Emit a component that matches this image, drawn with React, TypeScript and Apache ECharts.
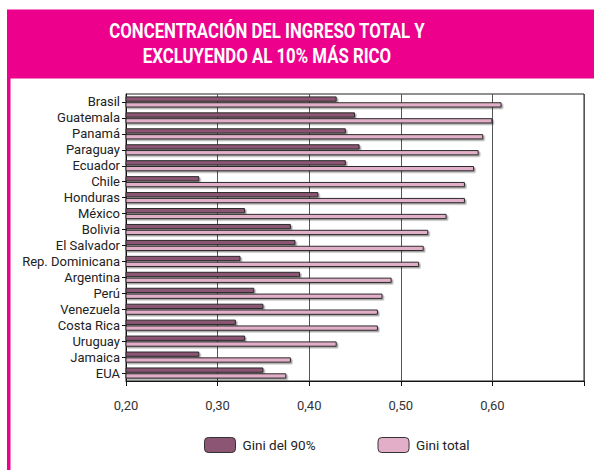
import React, { useEffect, useRef } from "react";
import * as echarts from "echarts";

const categories = [
  "Brasil", "Guatemala", "Panamá", "Paraguay", "Ecuador", "Chile", "Honduras",
  "México", "Bolivia", "El Salvador", "Rep. Dominicana", "Argentina", "Perú",
  "Venezuela", "Costa Rica", "Uruguay", "Jamaica", "EUA",
];
const gini90 = [0.43, 0.45, 0.44, 0.455, 0.44, 0.28, 0.41, 0.33, 0.38, 0.385, 0.325, 0.39, 0.34, 0.35, 0.32, 0.33, 0.28, 0.35];
const giniTotal = [0.61, 0.6, 0.59, 0.585, 0.58, 0.57, 0.57, 0.55, 0.53, 0.525, 0.52, 0.49, 0.48, 0.475, 0.475, 0.43, 0.38, 0.375];
const seriesNames = ["Gini del 90%", "Gini total"];
const titleLines = ["CONCENTRACIÓN DEL INGRESO TOTAL Y", "EXCLUYENDO AL 10% MÁS RICO"];

const FONT = "Roboto";
const MAGENTA = "#EC008C";
const DARK = "#8C5573";
const LIGHT = "#E3AFC8";

export default function App() {
  const ref = useRef<HTMLDivElement>(null);
  useEffect(() => {
    if (!ref.current) return;
    const chart = echarts.init(ref.current, undefined, { renderer: "svg" });
    const barStyle = (color: string) => ({
      color,
      borderColor: "#2a2a2a",
      borderWidth: 1,
      shadowColor: "rgba(0,0,0,0.35)",
      shadowBlur: 1,
      shadowOffsetX: 1.5,
      shadowOffsetY: 1.5,
    });
    chart.setOption({
      animation: false,
      backgroundColor: "#ffffff",
      textStyle: { fontFamily: FONT },
      graphic: [
        { type: "rect", shape: { x: 7, y: 9.5, width: 587, height: 69 }, style: { fill: MAGENTA } },
        { type: "rect", shape: { x: 7, y: 78, width: 3.5, height: 392 }, style: { fill: MAGENTA } },
        {
          type: "text", x: 267, y: 20.5, scaleX: 0.8,
          style: { text: titleLines[0], fill: "#fff", font: `bold 21px ${FONT}`, align: "center", verticalAlign: "top" },
        },
        {
          type: "text", x: 267, y: 45.5, scaleX: 0.8,
          style: { text: titleLines[1], fill: "#fff", font: `bold 21px ${FONT}`, align: "center", verticalAlign: "top" },
        },
      ],
      legend: {
        data: seriesNames,
        left: 199,
        top: 432,
        itemWidth: 31,
        itemHeight: 15,
        itemGap: 62,
        textStyle: { fontFamily: FONT, fontSize: 13.5, color: "#222", padding: [0, 0, 0, 2] },
        itemStyle: { borderColor: "#333", borderWidth: 1, shadowColor: "transparent", shadowBlur: 0, shadowOffsetX: 0, shadowOffsetY: 0 },
      },
      grid: {
        left: 126, right: 10, top: 94, bottom: 89,
        show: true, borderColor: "#222", borderWidth: 1, backgroundColor: "transparent",
      },
      xAxis: {
        type: "value",
        min: 0.2,
        max: 0.7,
        interval: 0.1,
        axisLine: { show: true, lineStyle: { color: "#111", width: 1 } },
        axisTick: { show: true, length: 5, lineStyle: { color: "#111" } },
        axisLabel: {
          fontFamily: FONT, fontSize: 13, color: "#333", margin: 18,
          formatter: (v: number) => (Math.abs(v - 0.7) < 1e-6 ? "" : v.toFixed(2).replace(".", ",")),
        },
        splitLine: { show: true, lineStyle: { color: "#555", width: 1 } },
      },
      yAxis: {
        type: "category",
        data: categories,
        inverse: true,
        axisLine: { show: true, lineStyle: { color: "#111" } },
        axisTick: { show: true, alignWithLabel: true, length: 4, lineStyle: { color: "#111" } },
        axisLabel: { fontFamily: FONT, fontSize: 13, color: "#222", margin: 6, interval: 0 },
      },
      series: [
        {
          name: seriesNames[0], type: "bar", data: gini90, barWidth: 5.3, barGap: "10%",
          itemStyle: barStyle(DARK),
        },
        {
          name: seriesNames[1], type: "bar", data: giniTotal, barWidth: 5.3, barGap: "10%",
          itemStyle: barStyle(LIGHT),
        },
      ],
    });
    return () => chart.dispose();
  }, []);
  return <div ref={ref} style={{ position: "fixed", left: 0, top: 0, width: 594, height: 470 }} />;
}
